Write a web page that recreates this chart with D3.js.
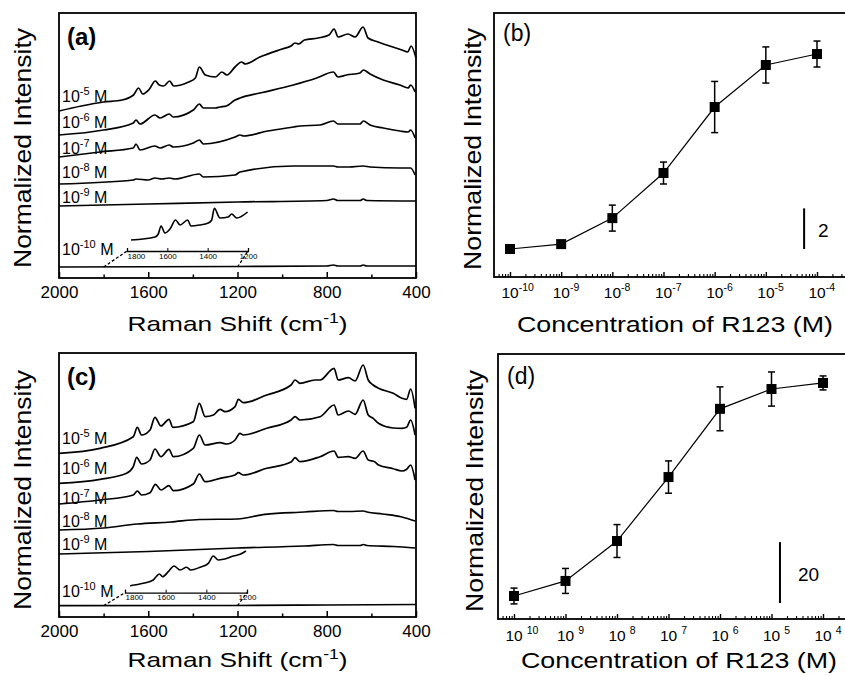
<!DOCTYPE html>
<html>
<head>
<meta charset="utf-8">
<script src="https://cdn.jsdelivr.net/npm/d3@7"></script>
<style>
  body { margin: 0; background: #fff; }
  svg { display: block; font-family: "Liberation Sans", Arial, Helvetica, sans-serif; }
</style>
</head>
<body>
<svg id="fig" width="845" height="676"></svg>
<script>
// ---- data ----
// spectra: [Raman shift (cm-1), intensity (a.u., offset traces)]
var specA5 = [[2000,167],[1900,172],[1800,176],[1718,178],[1666,183],[1643,190],[1625,184],[1598,188],[1568,197],[1551,193],[1531,192],[1504,197],[1486,192],[1419,196],[1389,200],[1371,211],[1344,203],[1299,201],[1270,206],[1247,203],[1211,211],[1182,216],[1165,214],[1100,221],[1000,229],[960,232],[942,235],[925,234],[900,238],[839,240],[790,243],[767,249],[749,241],[705,244],[673,241],[637,251],[615,240],[570,236],[463,228],[437,226],[422,232],[400,220]];
var specA6 = [[2000,143],[1800,148],[1667,155],[1655,158],[1637,154],[1570,163],[1547,160],[1506,164],[1488,161],[1398,168],[1371,174],[1353,170],[1300,170],[1278,171],[1250,172],[1211,178],[1189,180],[1099,185],[950,193],[845,200],[770,206],[750,201],[711,203],[651,205],[636,208],[606,204],[547,198],[472,193],[435,190],[424,193],[404,186]];
var specA7 = [[2000,121],[1816,126],[1667,130],[1655,134],[1637,128],[1570,132],[1547,130],[1506,133],[1488,131],[1398,135],[1371,138],[1353,134],[1211,141],[1189,143],[1172,142],[1065,147],[950,151],[920,152],[830,153],[770,157],[750,154],[651,154],[636,157],[606,153],[547,150],[472,147],[435,146],[424,148],[404,140]];
var specA8 = [[2000,94],[1667,98],[1655,99],[1600,98],[1570,100],[1540,99],[1506,100],[1480,99],[1371,104],[1353,101],[1211,103],[1189,106],[950,112],[770,112],[750,111],[700,111],[636,112],[606,111],[472,110],[424,110],[404,103]];
var specA9 = [[2000,72],[1600,74],[1200,76],[800,77.5],[770,79],[750,77.5],[650,77.5],[637,79],[620,77.5],[400,77]];
var specA10 = [[2000,11],[1200,11.5],[800,12],[770,13],[750,12],[650,12],[637,13],[620,12],[400,12]];
var insetA = [[1780,38],[1661,41],[1645,44],[1631,52],[1612,45],[1587,49],[1559,58],[1537,53],[1499,58],[1483,52],[1440,53],[1397,55],[1380,58],[1367,69.7],[1339,60],[1298,61],[1281,64],[1256,60],[1202,66]];

var specC5 = [[2000,163.7],[1816,168.7],[1667,180.3],[1649,189.7],[1630,182],[1592,187],[1570,199.7],[1543,191],[1507,197.7],[1490,189.7],[1398,195.3],[1371,213.7],[1345,200.3],[1308,202],[1278,207.7],[1256,205.3],[1211,210.3],[1196,217.7],[1174,214.3],[1069,222],[960,232],[942,237],[920,233.7],[853,237],[830,237],[767,248.7],[749,237],[703,239.3],[673,236],[637,252],[614,237],[592,232],[568,228.7],[502,223.7],[463,218.7],[442,217.7],[424,228],[404,208.7]];
var specC6 = [[2000,133.7],[1816,137.7],[1697,143.7],[1667,150.3],[1652,159.7],[1630,153],[1592,157],[1570,168],[1543,160.3],[1507,167.7],[1488,160.3],[1398,168.7],[1371,182],[1345,172],[1278,174.3],[1248,173],[1211,177],[1189,183.7],[1174,182],[1069,188.7],[960,197],[942,200.3],[920,197],[830,200.3],[767,212],[749,202],[703,206],[673,202.7],[637,217],[614,202],[592,198.7],[568,193.7],[502,189],[463,188.7],[442,189.7],[424,197],[404,182]];
var specC7 = [[2000,113],[1816,117],[1667,122],[1649,126],[1630,122],[1592,124.3],[1568,132.7],[1543,127],[1507,131.3],[1488,126.3],[1398,133],[1371,143],[1345,135.3],[1278,138.7],[1211,142],[1196,144.3],[1174,142],[1069,148.7],[960,155],[942,159.3],[920,155.3],[830,160.3],[767,166],[749,159.7],[703,160.3],[673,158.7],[637,166],[614,157],[585,155.3],[568,152],[502,148.3],[463,146],[442,147.7],[424,152],[404,137]];
var specC8 = [[2000,87],[1800,89],[1650,93],[1500,95],[1370,97.5],[1200,98],[1077,102.7],[900,105],[770,106.5],[750,105.5],[700,105.5],[636,106],[620,105],[550,103],[463,100],[404,96]];
var specC9 = [[2000,63],[1600,65.5],[1200,69],[900,71],[770,72.5],[750,71.5],[650,71.5],[636,72.5],[620,71.5],[500,70.5],[404,69]];
var specC10 = [[2000,11.3],[1200,11.5],[800,12],[400,12.5]];
var insetC = [[1775,31.3],[1710,33.7],[1661,37],[1644,41],[1631,43],[1615,40.3],[1587,45.3],[1559,51],[1529,47],[1497,49.7],[1477,47],[1431,49.7],[1390,53.7],[1366,61],[1341,57],[1316,57.7],[1267,61],[1234,62.7],[1205,66]];

var shiftTicks = [2000, 1600, 1200, 800, 400];
var shiftMinor = [1800, 1400, 1000, 600];
var insetTicks = [1800, 1600, 1400, 1200];
var specExp = ["-5", "-6", "-7", "-8", "-9", "-10"];

// concentration panels
var conc = [1e-10, 1e-9, 1e-8, 1e-7, 1e-6, 1e-5, 1e-4];
var expB = ["-10", "-9", "-8", "-7", "-6", "-5", "-4"];
var expD = ["10", "9", "8", "7", "6", "5", "4"];
var intensityB = [1.38, 1.62, 2.90, 5.12, 8.37, 10.44, 10.98];
var errorB = [0.15, 0.15, 0.64, 0.54, 1.26, 0.89, 0.64];
var intensityD = [7.55, 12.5, 25.6, 46.6, 69.0, 75.5, 77.5];
var errorD = [2.6, 4.1, 5.4, 5.3, 7.2, 5.6, 2.3];
var scaleBarB = 2;
var scaleBarD = 20;

var svg = d3.select("#fig");
var FONT = "'Liberation Sans', Arial, Helvetica, sans-serif";

function yTitle(x, cy, len) {
  svg.append("text")
    .attr("transform", "translate(" + x + "," + cy + ") rotate(-90)")
    .attr("text-anchor", "middle")
    .attr("font-size", 24)
    .attr("textLength", len).attr("lengthAdjust", "spacingAndGlyphs")
    .text("Normalized Intensity");
}

//spectra panels (a) and (c)
function drawSpectra(p) {
  var x = d3.scaleLinear().domain([2000, 400]).range([p.left, p.right]);
  var y = d3.scaleLinear().domain([0, p.ymax]).range([p.bottom, p.top]);
  var g = svg.append("g");

  var line = d3.line().x(d => x(d[0])).y(d => y(d[1])).curve(d3.curveMonotoneX);
  p.series.forEach(function (s) {
    g.append("path").datum(s).attr("d", line)
      .attr("fill", "none").attr("stroke", "#000").attr("stroke-width", 1.7);
  });

  // magnified trace of the lowest spectrum
  var xi = d3.scaleLinear().domain([1800, 1200]).range(p.insetRange);
  var lineI = d3.line().x(d => xi(d[0])).y(d => y(d[1])).curve(d3.curveMonotoneX);
  g.append("path").datum(p.inset).attr("d", lineI)
    .attr("fill", "none").attr("stroke", "#000").attr("stroke-width", 1.6);

  var ia = g.append("g").attr("transform", "translate(0," + y(p.insetAxis) + ")")
    .call(d3.axisBottom(xi).tickValues(insetTicks).tickSize(-3).tickPadding(2).tickFormat(d3.format("d")));
  ia.select(".domain").attr("stroke-width", 1.3);
  ia.selectAll("text").attr("font-size", 8).attr("font-family", FONT)
    .attr("text-anchor", (d, i) => i === 0 ? "start" : "middle");

  var base = p.series[p.series.length - 1];
  [1800, 1200].forEach(function (s) {
    g.append("line")
      .attr("x1", x(s)).attr("y1", y(base[0][1]))
      .attr("x2", xi(s)).attr("y2", y(p.insetAxis))
      .attr("stroke", "#000").attr("stroke-width", 1.3).attr("stroke-dasharray", "3,2");
  });

  // axis ticks point inward
  var ax = g.append("g").attr("transform", "translate(0," + p.bottom + ")")
    .call(d3.axisBottom(x).tickValues(shiftTicks).tickSize(-6).tickPadding(8).tickFormat(d3.format("d")));
  ax.select(".domain").remove();
  ax.selectAll("line").attr("stroke-width", 1.5);
  ax.selectAll("text").attr("font-size", 17).attr("font-family", FONT).attr("fill", "#000");
  var mx = g.append("g").attr("transform", "translate(0," + p.bottom + ")")
    .call(d3.axisBottom(x).tickValues(shiftMinor).tickSize(-3.5).tickFormat(""));
  mx.select(".domain").remove();
  mx.selectAll("line").attr("stroke-width", 1.5);

  g.append("rect").attr("x", p.left).attr("y", p.top)
    .attr("width", p.right - p.left).attr("height", p.bottom - p.top)
    .attr("fill", "none").attr("stroke", "#000").attr("stroke-width", 1.8);

  specExp.forEach(function (e, i) {
    var t = g.append("text").attr("x", p.left + 3).attr("y", p.labelY[i]).attr("font-size", 16);
    t.append("tspan").text("10");
    t.append("tspan").attr("dy", -7).attr("font-size", 11).text(e);
    t.append("tspan").attr("dy", 7).attr("font-size", 16).text(" M");
  });

  g.append("text").attr("x", p.left + 8).attr("y", p.tagY)
    .attr("font-size", 24).attr("font-weight", "bold").text(p.tag);

  var xt = g.append("text").attr("x", (p.left + p.right) / 2).attr("y", p.xTitleY)
    .attr("text-anchor", "middle").attr("font-size", 21)
    .attr("textLength", 220).attr("lengthAdjust", "spacingAndGlyphs");
  xt.append("tspan").text("Raman Shift (cm");
  xt.append("tspan").attr("dy", -8).attr("font-size", 14).text("-1");
  xt.append("tspan").attr("dy", 8).text(")");

  yTitle(p.yTitleX, p.yTitleCy, 240);
}

//concentration dependence panels (b) and (d)
function drawConc(p) {
  var x = d3.scaleLog().domain([1e-10, 1e-4]).range([p.x10, p.x4]);
  var y = d3.scaleLinear().domain([0, p.ymax]).range([p.bottom, p.top]);
  var g = svg.append("g");

  var minor = [];
  for (var e = -11; e <= -4; e++) {
    for (var m = 2; m <= 9; m++) {
      var v = m * Math.pow(10, e);
      if (x(v) > p.left + 1 && x(v) < p.right) minor.push(v);
    }
  }
  var ax = g.append("g").attr("transform", "translate(0," + p.bottom + ")")
    .call(d3.axisBottom(x).tickValues(conc).tickSize(-5).tickFormat(""));
  ax.select(".domain").remove();
  ax.selectAll("line").attr("stroke-width", 1.4);
  var mx = g.append("g").attr("transform", "translate(0," + p.bottom + ")")
    .call(d3.axisBottom(x).tickValues(minor).tickSize(-3).tickFormat(""));
  mx.select(".domain").remove();
  mx.selectAll("line").attr("stroke-width", 1.1);

  conc.forEach(function (c, i) {
    var t = g.append("text").attr("x", x(c) - 8.5).attr("y", p.tickY).attr("font-size", 15.5);
    t.append("tspan").text("10");
    t.append("tspan").attr("dx", p.supGap).attr("dy", -7).attr("font-size", 10.5).text(p.exps[i]);
  });

  var pts = conc.map((c, i) => ({ c: c, v: p.values[i], e: p.errors[i] }));
  g.append("path").datum(pts)
    .attr("d", d3.line().x(d => x(d.c)).y(d => y(d.v)))
    .attr("fill", "none").attr("stroke", "#000").attr("stroke-width", 1.2);

  var eb = g.selectAll(".eb").data(pts).enter().append("g").attr("stroke", "#000").attr("stroke-width", 1.5);
  eb.append("line").attr("x1", d => x(d.c)).attr("x2", d => x(d.c))
    .attr("y1", d => y(d.v - d.e)).attr("y2", d => y(d.v + d.e));
  eb.append("line").attr("x1", d => x(d.c) - 3.5).attr("x2", d => x(d.c) + 3.5)
    .attr("y1", d => y(d.v - d.e)).attr("y2", d => y(d.v - d.e));
  eb.append("line").attr("x1", d => x(d.c) - 3.5).attr("x2", d => x(d.c) + 3.5)
    .attr("y1", d => y(d.v + d.e)).attr("y2", d => y(d.v + d.e));

  g.selectAll(".pt").data(pts).enter().append("rect")
    .attr("x", d => x(d.c) - 5).attr("y", d => y(d.v) - 5)
    .attr("width", 10).attr("height", 10).attr("fill", "#000");

  // scale bar
  g.append("line").attr("x1", x(p.barAt[0])).attr("x2", x(p.barAt[0]))
    .attr("y1", y(p.barAt[1])).attr("y2", y(p.barAt[1] + p.bar))
    .attr("stroke", "#000").attr("stroke-width", 2);
  g.append("text").attr("x", x(p.barAt[0]) + p.barTextDx)
    .attr("y", (y(p.barAt[1]) + y(p.barAt[1] + p.bar)) / 2 + 8)
    .attr("font-size", 19).text(p.bar);

  g.append("rect").attr("x", p.left).attr("y", p.top)
    .attr("width", p.right - p.left).attr("height", p.bottom - p.top)
    .attr("fill", "none").attr("stroke", "#000").attr("stroke-width", 1.8);

  g.append("text").attr("x", p.left + 9).attr("y", p.tagY).attr("font-size", 23).text(p.tag);

  g.append("text").attr("x", p.xTitleCx).attr("y", p.xTitleY)
    .attr("text-anchor", "middle").attr("font-size", 22)
    .attr("textLength", 316).attr("lengthAdjust", "spacingAndGlyphs")
    .text("Concentration of R123 (M)");

  yTitle(p.yTitleX, p.yTitleCy, 242);
}

drawSpectra({
  left: 59, right: 416, top: 13, bottom: 278, ymax: 265,
  series: [specA5, specA6, specA7, specA8, specA9, specA10],
  inset: insetA, insetAxis: 27, insetRange: [127, 248],
  labelY: [102, 128, 154, 178, 203, 255],
  tag: "(a)", tagY: 45, xTitleY: 331, yTitleX: 31, yTitleCy: 148
});
drawSpectra({
  left: 59, right: 416, top: 353, bottom: 617, ymax: 264,
  series: [specC5, specC6, specC7, specC8, specC9, specC10],
  inset: insetC, insetAxis: 24.3, insetRange: [125, 247],
  labelY: [444, 474, 504, 527, 550, 597],
  tag: "(c)", tagY: 385, xTitleY: 667, yTitleX: 31, yTitleCy: 490
});
drawConc({
  left: 494, right: 850, top: 13, bottom: 277, x10: 510, x4: 817, ymax: 13,
  values: intensityB, errors: errorB, exps: expB, supGap: 0,
  bar: scaleBarB, barAt: [5.6e-5, 1.38], barTextDx: 14,
  tag: "(b)", tagY: 41, tickY: 298, xTitleY: 332, xTitleCx: 675, yTitleX: 481, yTitleCy: 149
});
drawConc({
  left: 498, right: 850, top: 354, bottom: 619, x10: 514, x4: 823, ymax: 87,
  values: intensityD, errors: errorD, exps: expD, supGap: 4,
  bar: scaleBarD, barAt: [1.46e-5, 5.25], barTextDx: 18,
  tag: "(d)", tagY: 384, tickY: 641, xTitleY: 668, xTitleCx: 679, yTitleX: 483, yTitleCy: 491
});
</script>
</body>
</html>
